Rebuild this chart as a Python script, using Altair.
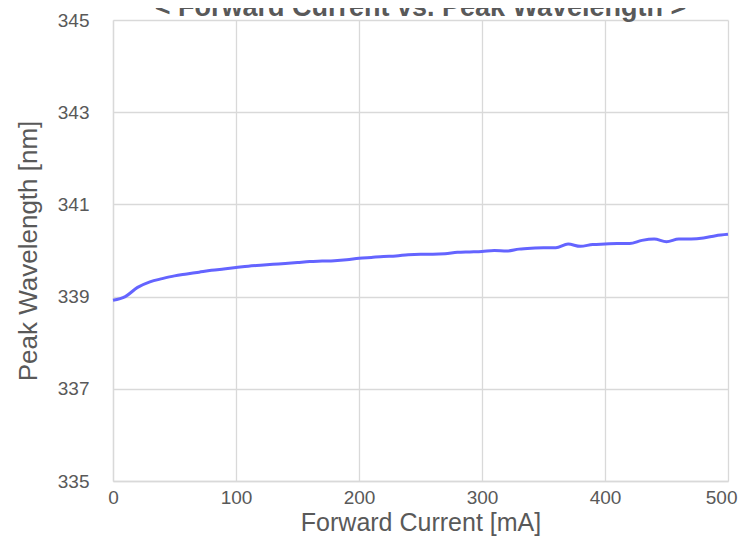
import altair as alt
import pandas as pd

title_text = ["< Forward Current vs. Peak Wavelength >"]
current_ma = [0, 10, 20, 30, 40, 50, 60, 70, 80, 90, 100, 110, 120, 130, 140, 150,
              160, 170, 180, 190, 200, 210, 220, 230, 240, 250, 260, 270, 280, 290,
              300, 310, 320, 330, 340, 350, 360, 370, 380, 390, 400, 410, 420, 430,
              440, 450, 460, 470, 480, 490, 500]
peak_nm = [338.92, 339.00, 339.20, 339.32, 339.39, 339.45, 339.49, 339.53, 339.57, 339.60,
           339.63, 339.66, 339.68, 339.70, 339.72, 339.74, 339.76, 339.77, 339.78, 339.80,
           339.83, 339.85, 339.87, 339.88, 339.91, 339.92, 339.92, 339.93, 339.96, 339.97,
           339.98, 340.00, 339.99, 340.03, 340.05, 340.06, 340.06, 340.14, 340.09, 340.13,
           340.14, 340.15, 340.15, 340.22, 340.25, 340.19, 340.25, 340.25, 340.27, 340.32,
           340.35]
x_ticks = [0, 100, 200, 300, 400, 500]
y_ticks = [335, 337, 339, 341, 343, 345]

df = pd.DataFrame({"current": current_ma, "wavelength": peak_nm})
df_title = pd.DataFrame({"t": title_text})

FONT = "Liberation Sans"
GRAY = "#595959"
GRID = "#d9d9d9"

line = (
    alt.Chart(df)
    .mark_line(color="#6464ff", strokeWidth=3, interpolate="monotone")
    .encode(
        x=alt.X(
            "current:Q",
            scale=alt.Scale(domain=[0, 500], nice=False),
            axis=alt.Axis(
                title="Forward Current [mA]",
                values=x_ticks,
                ticks=False,
                labelPadding=7,
                titlePadding=3,
                labelFontSize=19,
                titleFontSize=25,
                labelAlign=alt.ExprRef(expr="datum.value == 500 ? 'right' : 'center'"),
                labelOffset=alt.ExprRef(expr="datum.value == 500 ? 9 : 0"),
            ),
        ),
        y=alt.Y(
            "wavelength:Q",
            scale=alt.Scale(domain=[335, 345], nice=False, zero=False),
            axis=alt.Axis(
                title="Peak Wavelength [nm]",
                values=y_ticks,
                ticks=False,
                labelPadding=24,
                titlePadding=16,
                labelFontSize=19,
                titleFontSize=26,
            ),
        ),
    )
)

title = (
    alt.Chart(df_title)
    .mark_text(
        font=FONT,
        fontSize=27,
        fontWeight="bold",
        color=GRAY,
        align="center",
        baseline="alphabetic",
    )
    .encode(text="t:N", x=alt.value(307.5), y=alt.value(-4))
)

chart = (
    alt.layer(line, title)
    .properties(
        width=615,
        height=461,
        autosize=alt.AutoSizeParams(type="none"),
        padding={"left": 105, "top": 12, "right": 11, "bottom": 58},
    )
    .configure_view(stroke=None)
    .configure_axis(
        labelFont=FONT,
        titleFont=FONT,
        labelColor=GRAY,
        titleColor=GRAY,
        titleFontWeight="normal",
        gridColor=GRID,
        gridWidth=1.3,
        domainColor=GRID,
        domainWidth=1.3,
    )
)

chart.save("out.html", embed_options={"renderer": "svg", "actions": False})
